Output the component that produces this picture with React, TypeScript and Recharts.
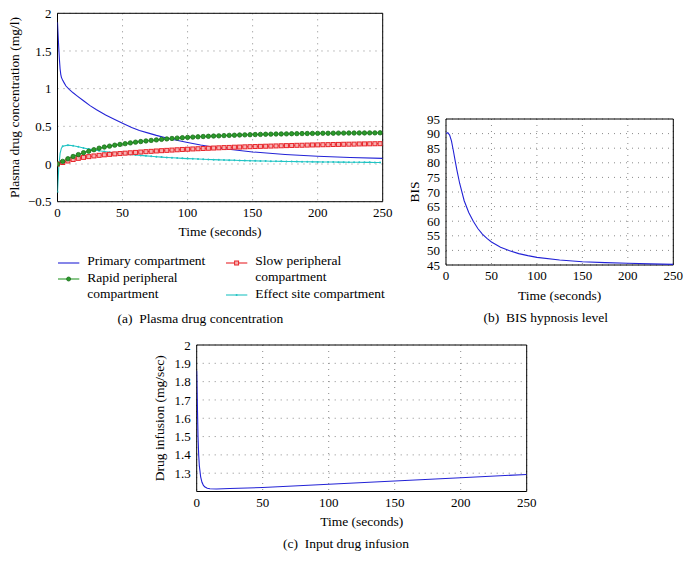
import React from 'react';
import { LineChart, Line, XAxis, YAxis, CartesianGrid, ReferenceArea } from 'recharts';

const FONT = '"Liberation Serif", "Times New Roman", Times, serif';

// ---- tick labels ----
const TIME_TICKS = [0, 50, 100, 150, 200, 250];
const CONC_TICKS = [-0.5, 0, 0.5, 1, 1.5, 2];
const BIS_TICKS = [45, 50, 55, 60, 65, 70, 75, 80, 85, 90, 95];
const INF_TICKS = [1.3, 1.4, 1.5, 1.6, 1.7, 1.8, 1.9, 2];

// ---- (a) plasma drug concentration ----
const PRIMARY_T = [0, 0.5, 1, 1.5, 2, 2.5, 3, 4, 5, 6.5, 9, 12, 15, 20, 25, 30, 37, 44, 50, 57, 63, 70, 76, 86, 100, 110, 125, 150, 175, 200, 225, 250];
const PRIMARY = [1.88, 1.7, 1.53, 1.38, 1.26, 1.19, 1.15, 1.11, 1.08, 1.035, 0.99, 0.945, 0.905, 0.84, 0.775, 0.72, 0.65, 0.59, 0.54, 0.485, 0.445, 0.41, 0.38, 0.335, 0.285, 0.252, 0.21, 0.16, 0.127, 0.103, 0.087, 0.075];

const MARKER_T = [0, 4, 8, 12, 16, 20, 24, 28, 32, 36, 40, 44, 48, 52, 56, 60, 64, 68, 72, 76, 80, 84, 88, 92, 96, 100, 104, 108, 112, 116, 120, 124, 128, 132, 136, 140, 144, 148, 152, 156, 160, 164, 168, 172, 176, 180, 184, 188, 192, 196, 200, 204, 208, 212, 216, 220, 224, 228, 232, 236, 240, 244, 248];
const RAPID = [0, 0.035, 0.07, 0.1, 0.125, 0.15, 0.17, 0.19, 0.21, 0.225, 0.237, 0.25, 0.26, 0.27, 0.28, 0.29, 0.298, 0.306, 0.313, 0.32, 0.327, 0.333, 0.339, 0.344, 0.349, 0.353, 0.357, 0.361, 0.365, 0.368, 0.371, 0.374, 0.377, 0.38, 0.382, 0.385, 0.387, 0.389, 0.391, 0.393, 0.395, 0.396, 0.398, 0.399, 0.4, 0.402, 0.403, 0.404, 0.405, 0.406, 0.407, 0.408, 0.408, 0.409, 0.41, 0.41, 0.411, 0.411, 0.412, 0.412, 0.413, 0.413, 0.414];
const SLOW = [0, 0.02, 0.04, 0.06, 0.075, 0.088, 0.098, 0.107, 0.115, 0.122, 0.128, 0.134, 0.139, 0.144, 0.149, 0.154, 0.159, 0.164, 0.168, 0.173, 0.177, 0.181, 0.185, 0.189, 0.193, 0.196, 0.2, 0.203, 0.206, 0.209, 0.212, 0.215, 0.218, 0.22, 0.223, 0.225, 0.228, 0.23, 0.232, 0.234, 0.236, 0.238, 0.24, 0.242, 0.244, 0.246, 0.248, 0.249, 0.251, 0.253, 0.254, 0.256, 0.257, 0.259, 0.26, 0.262, 0.263, 0.264, 0.266, 0.267, 0.268, 0.269, 0.27];
const EFFECT_T = [0, 1, 2, 3, 4, 8, 12, 16, 20, 24, 28, 32, 36, 40, 44, 48, 52, 56, 60, 64, 68, 72, 76, 80, 84, 88, 92, 96, 100, 104, 108, 112, 116, 120, 124, 128, 132, 136, 140, 144, 148, 152, 156, 160, 164, 168, 172, 176, 180, 184, 188, 192, 196, 200, 204, 208, 212, 216, 220, 224, 228, 232, 236, 240, 244, 248];
const EFFECT = [-0.37, -0.03, 0.14, 0.21, 0.235, 0.25, 0.243, 0.228, 0.213, 0.2, 0.188, 0.176, 0.166, 0.157, 0.149, 0.141, 0.134, 0.127, 0.12, 0.114, 0.108, 0.102, 0.097, 0.092, 0.087, 0.083, 0.079, 0.075, 0.072, 0.069, 0.066, 0.063, 0.06, 0.058, 0.055, 0.053, 0.051, 0.049, 0.047, 0.045, 0.043, 0.042, 0.04, 0.039, 0.037, 0.036, 0.035, 0.034, 0.033, 0.032, 0.031, 0.03, 0.029, 0.028, 0.027, 0.027, 0.026, 0.025, 0.025, 0.024, 0.023, 0.023, 0.022, 0.022, 0.021, 0.021];

// ---- (b) BIS ----
const BIS_T = [0, 2, 4, 6, 8, 10, 12, 15, 20, 25, 30, 35, 40, 45, 50, 60, 70, 80, 90, 100, 125, 150, 175, 200, 225, 250];
const BIS = [90, 90.3, 89.5, 87.5, 84.3, 80.8, 77.5, 73, 67, 63, 60, 57.5, 55.6, 54.1, 52.9, 51.1, 49.9, 48.9, 48.2, 47.6, 46.7, 46.1, 45.8, 45.6, 45.4, 45.2];

// ---- (c) infusion ----
const INF_T = [0, 0.5, 1, 1.5, 2, 3, 4, 5, 6, 8, 10, 15, 25, 50, 100, 150, 200, 250];
const INF = [1.86, 1.68, 1.5, 1.4, 1.34, 1.28, 1.25, 1.235, 1.226, 1.218, 1.215, 1.214, 1.216, 1.222, 1.24, 1.257, 1.275, 1.293];

const zip = (ts: number[], vs: number[]) => ts.map((t, i) => ({ t, v: vs[i] }));
const primaryData = zip(PRIMARY_T, PRIMARY);
const rapidData = zip(MARKER_T, RAPID);
const slowData = zip(MARKER_T, SLOW);
const effectData = zip(EFFECT_T, EFFECT);
const bisData = zip(BIS_T, BIS);
const infData = zip(INF_T, INF);

const BLUE = '#2323d6';
const GREEN = '#2b9a2b';
const GREEN_DARK = '#1c6e1c';
const RED = '#e8262b';
const RED_FILL = '#f6b0b0';
const CYAN = '#22c4c4';
const GRID = '#8a8a8a';

const tickStyle = { fill: '#000', fontSize: 13, fontFamily: FONT };
const fmt = (v: number) => (v < 0 ? '\u2212' + Math.abs(v) : String(v));

const greenDot = (p: any) => (
  <circle key={`g${p.index}`} cx={p.cx} cy={p.cy} r={2.2} fill={GREEN} stroke={GREEN_DARK} strokeWidth={0.8} />
);
const redDot = (p: any) => (
  <rect key={`r${p.index}`} x={p.cx - 2} y={p.cy - 2} width={4} height={4} fill={RED_FILL} stroke={RED} strokeWidth={1} />
);
const cyanDot = (p: any) =>
  p.payload && p.payload.t % 4 === 0 ? (
    <circle key={`c${p.index}`} cx={p.cx} cy={p.cy} r={1} fill={CYAN} />
  ) : (
    <g key={`c${p.index}`} />
  );

const xAxisProps = (offset: number) => ({
  type: 'number' as const,
  dataKey: 't',
  domain: [0, 250],
  ticks: TIME_TICKS,
  allowDataOverflow: true,
  axisLine: false,
  tickLine: false,
  tickSize: 4,
  tickMargin: 2,
  tick: tickStyle,
  height: 40,
  interval: 0 as const,
  label: { value: 'Time (seconds)', position: 'insideBottom', offset, fill: '#000', fontSize: 13.5, fontFamily: FONT },
});

const yLabel = (value: string, offset: number) => ({
  value,
  angle: -90,
  position: 'insideLeft',
  offset,
  fill: '#000',
  fontSize: 13.5,
  fontFamily: FONT,
  style: { textAnchor: 'middle' },
});

const caption: React.CSSProperties = {
  position: 'absolute',
  fontFamily: FONT,
  fontSize: 13.5,
  color: '#000',
  whiteSpace: 'pre',
  lineHeight: 'normal',
  transform: 'translateX(-50%)',
};

const LegendGlyph = ({ color, marker }: { color: string; marker: 'none' | 'circle' | 'square' | 'dot' }) => (
  <svg width={22} height={8} style={{ position: 'absolute', left: 0, top: -4, overflow: 'visible' }}>
    <line x1={0} y1={4} x2={21.3} y2={4} stroke={color} strokeWidth={1.1} />
    {marker === 'circle' && <circle cx={10.6} cy={4} r={2} fill={GREEN} stroke={GREEN_DARK} strokeWidth={0.8} />}
    {marker === 'square' && <rect x={8.6} y={2} width={4} height={4} fill={RED_FILL} stroke={RED} strokeWidth={1} />}
    {marker === 'dot' && <circle cx={10.6} cy={4} r={1} fill={CYAN} />}
  </svg>
);

const legendItems = [
  { x: 57.7, y: 262.7, color: BLUE, marker: 'none' as const, lines: ['Primary compartment'] },
  { x: 57.7, y: 279, color: GREEN, marker: 'circle' as const, lines: ['Rapid peripheral', 'compartment'] },
  { x: 225.7, y: 262.7, color: RED, marker: 'square' as const, lines: ['Slow peripheral', 'compartment'] },
  { x: 225.7, y: 295.3, color: CYAN, marker: 'dot' as const, lines: ['Effect site compartment'] },
];

export default function App() {
  return (
    <div style={{ position: 'absolute', left: 0, top: 0, width: 690, height: 573, background: '#fff', fontFamily: FONT }}>
      {/* (a) */}
      <div style={{ position: 'absolute', left: 0, top: 0 }}>
        <LineChart width={400} height={241.7} margin={{ top: 13.3, right: 17.3, bottom: 0, left: 0 }}>
          <CartesianGrid stroke={GRID} strokeDasharray="1 5" />
          <XAxis {...(xAxisProps(5.2) as any)} />
          <YAxis
            type="number"
            domain={[-0.5, 2]}
            ticks={CONC_TICKS}
            allowDataOverflow
            axisLine={false}
            tickLine={false}
            tickSize={4}
            tickMargin={2}
            tick={tickStyle}
            tickFormatter={fmt}
            width={57.5}
            interval={0}
            label={yLabel('Plasma drug concentration (mg/l)', 14) as any}
          />
          <Line data={primaryData} dataKey="v" type="linear" stroke={BLUE} strokeWidth={1.1} dot={false} isAnimationActive={false} />
          <Line data={effectData} dataKey="v" type="linear" stroke={CYAN} strokeWidth={1.1} dot={cyanDot} isAnimationActive={false} />
          <Line data={slowData} dataKey="v" type="linear" stroke={RED} strokeWidth={1.1} dot={redDot} isAnimationActive={false} />
          <Line data={rapidData} dataKey="v" type="linear" stroke={GREEN} strokeWidth={1.1} dot={greenDot} isAnimationActive={false} />
          <ReferenceArea x1={0} x2={250} y1={-0.5} y2={2} fill="none" stroke="#000" strokeWidth={1} ifOverflow="visible" />
        </LineChart>
      </div>

      {/* legend (a) */}
      {legendItems.map((it, i) => (
        <div key={i} style={{ position: 'absolute', left: it.x, top: it.y }}>
          <LegendGlyph color={it.color} marker={it.marker} />
          {it.lines.map((ln, j) => (
            <div
              key={j}
              style={{
                position: 'absolute',
                left: 29.6,
                top: -9.5 + j * 16.3,
                fontSize: 13.5,
                lineHeight: '16.3px',
                whiteSpace: 'pre',
                color: '#000',
              }}
            >
              {ln}
            </div>
          ))}
        </div>
      ))}
      <div style={{ ...caption, left: 200.3, top: 320 - 8.9 }}>{'(a)  Plasma drug concentration'}</div>

      {/* (b) */}
      <div style={{ position: 'absolute', left: 400, top: 0 }}>
        <LineChart width={290} height={305} margin={{ top: 119, right: 16.7, bottom: 0, left: 0 }}>
          <CartesianGrid stroke={GRID} strokeDasharray="1 5" />
          <XAxis {...(xAxisProps(5.2) as any)} />
          <YAxis
            type="number"
            domain={[45, 95]}
            ticks={BIS_TICKS}
            allowDataOverflow
            axisLine={false}
            tickLine={false}
            tickSize={4}
            tickMargin={2}
            tick={tickStyle}
            width={46}
            interval={0}
            label={yLabel('BIS', 14) as any}
          />
          <Line data={bisData} dataKey="v" type="linear" stroke={BLUE} strokeWidth={1.1} dot={false} isAnimationActive={false} />
          <ReferenceArea x1={0} x2={250} y1={45} y2={95} fill="none" stroke="#000" strokeWidth={1} ifOverflow="visible" />
        </LineChart>
      </div>
      <div style={{ ...caption, left: 545.7, top: 319 - 8.9 }}>{'(b)  BIS hypnosis level'}</div>

      {/* (c) */}
      <div style={{ position: 'absolute', left: 140, top: 300 }}>
        <LineChart width={400} height={231.5} margin={{ top: 45, right: 13.3, bottom: 0, left: 0 }}>
          <CartesianGrid stroke={GRID} strokeDasharray="1 5" />
          <XAxis {...(xAxisProps(5.7) as any)} />
          <YAxis
            type="number"
            domain={[1.2, 2]}
            ticks={INF_TICKS}
            allowDataOverflow
            axisLine={false}
            tickLine={false}
            tickSize={4}
            tickMargin={2}
            tick={tickStyle}
            width={56.7}
            interval={0}
            label={yLabel('Drug infusion (mg/sec)', 19) as any}
          />
          <Line data={infData} dataKey="v" type="linear" stroke={BLUE} strokeWidth={1.1} dot={false} isAnimationActive={false} />
          <ReferenceArea x1={0} x2={250} y1={1.2} y2={2} fill="none" stroke="#000" strokeWidth={1} ifOverflow="visible" />
        </LineChart>
      </div>
      <div style={{ ...caption, left: 346, top: 545 - 8.9 }}>{'(c)  Input drug infusion'}</div>
    </div>
  );
}
